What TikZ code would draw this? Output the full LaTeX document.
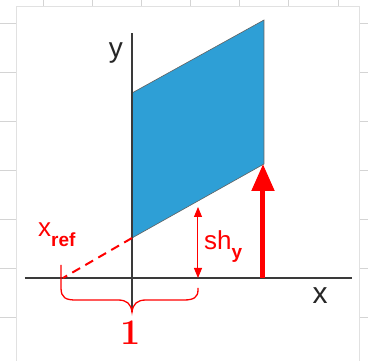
\documentclass[tikz,border=0pt]{standalone}
\usepackage{fontspec}
\setmainfont{Liberation Sans}
\newfontfamily\numfont{Latin Modern Roman}
\usetikzlibrary{arrows.meta}
\definecolor{shapeblue}{HTML}{2E9FD6}
\definecolor{gridgray}{HTML}{D4D4D4}
\definecolor{axisgray}{HTML}{3A3A3A}
\tikzset{
  gridline/.style={draw=gridgray, line width=0.9pt},
  axisline/.style={draw=axisgray, line width=1.6pt},
  redlbl/.style={text=red, inner sep=0pt},
  blacklbl/.style={text=black!85, inner sep=0pt},
}
\begin{document}
\begin{tikzpicture}[x=1pt,y=-1pt]
\useasboundingbox (0,0) rectangle (368,361);
% background grid
\foreach \gx in {43,92,141,190,239,288,338} \draw[gridline] (\gx,0) -- (\gx,361);
\foreach \gy in {23,72,121,170,219,268,317} \draw[gridline] (0,\gy) -- (368,\gy);
\fill[white] (16,6) rectangle (359,370);
\draw[gridgray!70, line width=0.5pt] (16,370) -- (16,6) -- (359,6) -- (359,370);
% coordinates
\coordinate (tl) at (132,93);
\coordinate (tr) at (264,20);
\coordinate (br) at (264,164);
\coordinate (bl) at (132,238);
\coordinate (yb) at (132,312);
\coordinate (yt) at (132,33);
\coordinate (xl) at (25,278);
\coordinate (xr) at (352,278);
\coordinate (xref) at (63,278);
% shape
\filldraw[fill=shapeblue, draw=axisgray!80, line width=0.6pt] (tl) -- (tr) -- (br) -- (bl) -- cycle;
% axes
\draw[axisline] (xl) -- (xr);
\draw[axisgray, line width=1.3pt] (yb) -- (yt);
% dashed line
\draw[red, line width=2pt, dash pattern=on 9pt off 6pt] (bl) -- (xref);
% sh_y arrow
\coordinate (sht) at (198,207);
\coordinate (shb) at (198,278);
\draw[red, line width=1pt, {Triangle[length=10pt,width=8pt]}-{Triangle[length=10pt,width=8pt]}] (sht) -- (shb);
% big arrow
\coordinate (bab) at (263,278);
\coordinate (bat) at (263,164);
\draw[red, line width=5pt, -{Triangle[length=27pt,width=22pt]}] (bab) -- (bat);
% brace
\coordinate (brl) at (61,265);
\coordinate (brr) at (198,288);
\coordinate (brm) at (132,312);
\draw[red, line width=1.3pt] (brl) -- (61,288) .. controls (61,298) and (66,300) .. (76,300)
  -- (118,300) .. controls (127,300) and (131,304) .. (brm)
  .. controls (133,304) and (137,300) .. (146,300) -- (184,300)
  .. controls (194,300) and (198,297) .. (198,290) -- (brr);
% labels
\node[blacklbl, anchor=base, font=\fontsize{28}{28}\selectfont] (ylbl) at (116,58) {y};
\node[blacklbl, anchor=base, font=\fontsize{30}{30}\selectfont] (xlbl) at (320,304) {x};
\node[redlbl, anchor=base west] (xreflbl) at (38,237)
  {\fontsize{26}{26}\selectfont x\raisebox{-10pt}{\fontsize{19}{19}\selectfont\bfseries ref}};
\node[redlbl, anchor=base west] (shlbl) at (204,250)
  {\fontsize{26}{26}\selectfont sh\raisebox{-9pt}{\fontsize{19}{19}\selectfont\bfseries y}};
\node[redlbl, anchor=base] (onelbl) at (131,345) {\numfont\bfseries\fontsize{36}{36}\selectfont 1};
\end{tikzpicture}
\end{document}
